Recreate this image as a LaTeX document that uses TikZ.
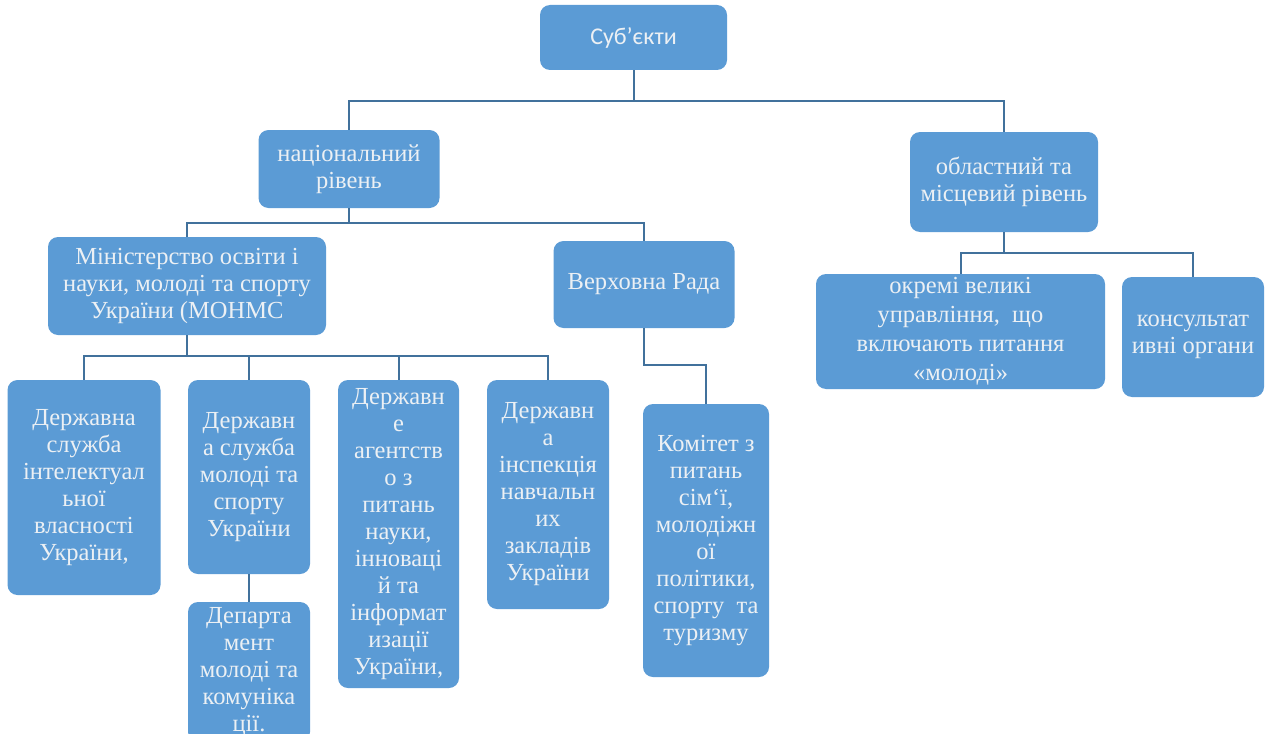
\documentclass[tikz,border=0pt]{standalone}
\usepackage{fontspec}
\setmainfont{Liberation Serif}
\newfontfamily\calfont{Carlito}
\definecolor{boxblue}{RGB}{91,155,213}
\definecolor{linkblue}{RGB}{65,113,156}
\definecolor{boxtext}{RGB}{236,240,244}
\tikzset{
  orgbox/.style={rectangle, rounded corners=10pt, fill=boxblue, draw=none,
    text=boxtext, align=center, inner sep=0pt,
    font=\fontsize{24.5}{27}\selectfont},
  conn/.style={draw=linkblue, line width=2pt}
}
\begin{document}
\begin{tikzpicture}[x=1pt,y=-1pt]
\useasboundingbox (0,0) rectangle (1265,733);
\clip (0,0) rectangle (1265,733);
% boxes
\node[orgbox, minimum width=187pt, minimum height=65pt, font=\calfont\fontsize{24}{28}\selectfont] (subj) at (633.5,37.5) {Суб’єкти};
\node[orgbox, minimum width=181pt, minimum height=78pt] (nat) at (349,169) {національний\\рівень};
\node[orgbox, minimum width=188pt, minimum height=100pt] (obl) at (1004,182) {областний та\\місцевий рівень};
\node[orgbox, minimum width=278pt, minimum height=98pt] (min) at (187,286) {Міністерство освіти і\\науки, молоді та спорту\\України (МОНМС};
\node[orgbox, minimum width=181pt, minimum height=87pt] (vr) at (644,284.5) {Верховна Рада};
\node[orgbox, minimum width=289pt, minimum height=115pt, font=\fontsize{24.5}{29}\selectfont] (okr) at (960.5,331.5) {окремі великі\\управління,\ \ що\\включають питання\\«молоді»};
\node[orgbox, minimum width=142pt, minimum height=120pt] (kons) at (1193,337) {консультат\\ивні органи};
\node[orgbox, minimum width=153pt, minimum height=215pt] (ds1) at (84,487.5) {Державна\\служба\\інтелектуал\\ьної\\власності\\України,};
\node[orgbox, minimum width=122pt, minimum height=194pt] (ds2) at (249,477) {Державн\\а служба\\молоді та\\спорту\\України};
\node[orgbox, minimum width=122pt, minimum height=140pt] (dep) at (249,672) {Департа\\мент\\молоді та\\комуніка\\ції.};
\node[orgbox, minimum width=121pt, minimum height=308pt] (da) at (398.5,534) {Державн\\е\\агентств\\о з\\питань\\науки,\\інноваці\\й та\\інформат\\изації\\України,};
\node[orgbox, minimum width=122pt, minimum height=229pt] (di) at (548,494.5) {Державн\\а\\інспекція\\навчальн\\их\\закладів\\України};
\node[orgbox, minimum width=126pt, minimum height=273pt] (kom) at (706,540.5) {Комітет з\\питань\\сім‘ї,\\молодіжн\\ої\\політики,\\спорту\ \ та\\туризму};
% bus coordinates
\coordinate (bus1) at (633.5,101);
\coordinate (bus2) at (349,223);
\coordinate (bus3) at (187,356);
\coordinate (bus4) at (644,365);
\coordinate (bus5) at (1004,253);
% connectors
\draw[conn] (subj.south) -- (bus1);
\draw[conn] (nat.north) |- (bus1) -| (obl.north);
\draw[conn] (nat.south) -- (bus2);
\draw[conn] (min.north) |- (bus2) -| (vr.north);
\draw[conn] (min.south) -- (bus3);
\draw[conn] (ds1.north) |- (bus3) -| (di.north);
\draw[conn] (ds2.north) -- (ds2.north |- bus3);
\draw[conn] (da.north) -- (da.north |- bus3);
\draw[conn] (ds2.south) -- (dep.north);
\draw[conn] (vr.south) -- (vr.south |- bus4) -| (kom.north);
\draw[conn] (obl.south) -- (bus5);
\draw[conn] (okr.north) |- (bus5) -| (kons.north);
\end{tikzpicture}
\end{document}
